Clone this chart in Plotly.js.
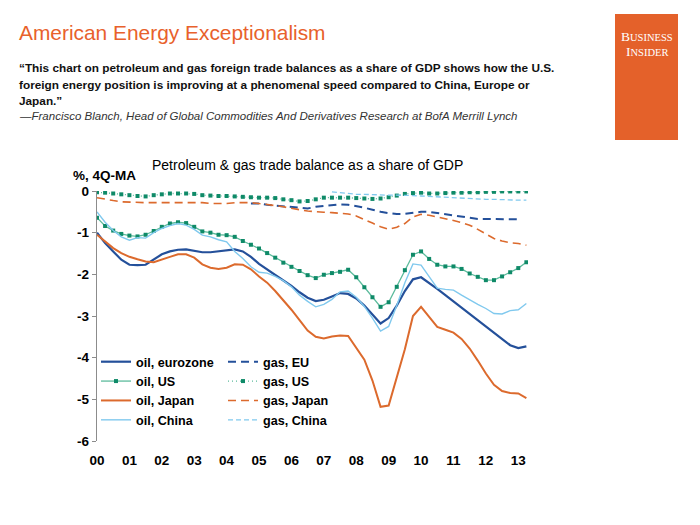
<!DOCTYPE html>
<html>
<head>
<meta charset="utf-8">
<script src="https://cdn.plot.ly/plotly-3.0.1.min.js"></script>
<style>
  html, body { margin: 0; padding: 0; background: #ffffff; }
  #chart { width: 700px; height: 525px; }
</style>
</head>
<body>
<div id="chart"></div>
<script>
// ---- data (quarterly, 4Q moving average, % of GDP) ----
const quarters = [
  2000.00, 2000.25, 2000.50, 2000.75, 2001.00, 2001.25, 2001.50, 2001.75,
  2002.00, 2002.25, 2002.50, 2002.75, 2003.00, 2003.25, 2003.50, 2003.75,
  2004.00, 2004.25, 2004.50, 2004.75, 2005.00, 2005.25, 2005.50, 2005.75,
  2006.00, 2006.25, 2006.50, 2006.75, 2007.00, 2007.25, 2007.50, 2007.75,
  2008.00, 2008.25, 2008.50, 2008.75, 2009.00, 2009.25, 2009.50, 2009.75,
  2010.00, 2010.25, 2010.50, 2010.75, 2011.00, 2011.25, 2011.50, 2011.75,
  2012.00, 2012.25, 2012.50, 2012.75, 2013.00, 2013.25
];

const oilEurozone = [
  -1.00, -1.25, -1.45, -1.65, -1.77, -1.78, -1.77, -1.65,
  -1.52, -1.45, -1.41, -1.40, -1.43, -1.47, -1.47, -1.45,
  -1.42, -1.40, -1.45, -1.58, -1.75, -1.88, -2.00, -2.14,
  -2.28, -2.43, -2.56, -2.64, -2.61, -2.53, -2.45, -2.47,
  -2.58, -2.75, -2.97, -3.18, -3.05, -2.75, -2.40, -2.12,
  -2.07, -2.20, -2.35, -2.50, -2.65, -2.80, -2.95, -3.10,
  -3.27, -3.42, -3.57, -3.70, -3.77, -3.73
];

const oilUS = [
  -0.64, -0.84, -0.95, -1.03, -1.07, -1.09, -1.05, -0.96,
  -0.86, -0.78, -0.75, -0.77, -0.86, -0.97, -1.00, -1.05,
  -1.06, -1.10, -1.20, -1.29, -1.38, -1.49, -1.60, -1.72,
  -1.82, -1.92, -2.02, -2.09, -2.01, -1.97, -1.94, -1.89,
  -2.07, -2.31, -2.55, -2.78, -2.67, -2.30, -1.90, -1.53,
  -1.45, -1.63, -1.77, -1.81, -1.81, -1.87, -1.98, -2.06,
  -2.14, -2.14, -2.05, -1.95, -1.85, -1.71
];

const oilJapan = [
  -1.05, -1.22, -1.37, -1.49, -1.58, -1.64, -1.69, -1.71,
  -1.64, -1.58, -1.52, -1.52, -1.60, -1.76, -1.84, -1.87,
  -1.84, -1.76, -1.77, -1.88, -2.05, -2.20, -2.40, -2.62,
  -2.85, -3.10, -3.35, -3.50, -3.54, -3.49, -3.47, -3.48,
  -3.75, -4.05, -4.55, -5.18, -5.15, -4.50, -3.80, -3.00,
  -2.78, -3.02, -3.26, -3.33, -3.40, -3.55, -3.78, -4.07,
  -4.38, -4.65, -4.80, -4.85, -4.86, -4.97
];

const oilChina = [
  -0.50, -0.75, -0.95, -1.10, -1.18, -1.12, -1.13, -1.00,
  -0.90, -0.83, -0.78, -0.82, -0.92, -1.06, -1.10, -1.17,
  -1.22, -1.45, -1.62, -1.82, -1.95, -1.97, -2.05, -2.15,
  -2.30, -2.50, -2.65, -2.78, -2.72, -2.60, -2.42, -2.40,
  -2.55, -2.77, -3.05, -3.36, -3.25, -2.75, -2.20, -1.75,
  -1.78, -2.05, -2.33, -2.36, -2.38, -2.50, -2.62, -2.72,
  -2.82, -2.94, -2.95, -2.87, -2.85, -2.70
];

const gasEU = [
  null, null, null, null, null, null, null, null,
  null, null, null, null, null, null, null, null,
  null, null, null, -0.30, -0.30, -0.33, -0.35, -0.37,
  -0.38, -0.40, -0.42, -0.38, -0.36, -0.33, -0.32, -0.33,
  -0.36, -0.40, -0.45, -0.50, -0.53, -0.55, -0.55, -0.52,
  -0.50, -0.50, -0.53, -0.56, -0.58, -0.62, -0.65, -0.67,
  -0.67, -0.67, -0.68, -0.68, -0.68, null
];

const gasUS = [
  -0.03, -0.04, -0.06, -0.08, -0.10, -0.12, -0.13, -0.10,
  -0.08, -0.06, -0.06, -0.06, -0.07, -0.10, -0.11, -0.12,
  -0.12, -0.13, -0.14, -0.15, -0.16, -0.16, -0.17, -0.20,
  -0.22, -0.25, -0.24, -0.20, -0.16, -0.16, -0.16, -0.16,
  -0.17, -0.18, -0.19, -0.18, -0.15, -0.11, -0.07, -0.05,
  -0.04, -0.06, -0.06, -0.05, -0.04, -0.04, -0.03, -0.03,
  -0.02, -0.02, -0.01, -0.01, -0.01, -0.01
];

const gasJapan = [
  -0.16, -0.20, -0.23, -0.26, -0.27, -0.28, -0.28, -0.28,
  -0.28, -0.27, -0.27, -0.27, -0.27, -0.28, -0.30, -0.30,
  -0.30, -0.28, -0.28, -0.28, -0.30, -0.32, -0.35, -0.38,
  -0.42, -0.45, -0.48, -0.50, -0.51, -0.52, -0.53, -0.55,
  -0.60, -0.68, -0.77, -0.86, -0.92, -0.87, -0.78, -0.62,
  -0.56, -0.58, -0.62, -0.67, -0.71, -0.76, -0.82, -0.92,
  -1.04, -1.14, -1.20, -1.24, -1.26, -1.30
];

const gasChina = [
  null, null, null, null, null, null, null, null,
  null, null, null, null, null, null, null, null,
  null, null, null, null, null, null, null, null,
  null, null, null, null, null, -0.02, -0.04, -0.06,
  -0.08, -0.08, -0.09, -0.10, -0.10, -0.10, -0.10, -0.11,
  -0.12, -0.13, -0.14, -0.16, -0.17, -0.18, -0.19, -0.19,
  -0.20, -0.20, -0.21, -0.21, -0.22, -0.22
];

const yearTicks  = [2000, 2001, 2002, 2003, 2004, 2005, 2006, 2007, 2008, 2009, 2010, 2011, 2012, 2013];
const yearLabels = ['00', '01', '02', '03', '04', '05', '06', '07', '08', '09', '10', '11', '12', '13'];
const yTicks      = [0, -1, -2, -3, -4, -5, -6];
const yTickLabels = ['0', '-1', '-2', '-3', '-4', '-5', '-6'];
const gridTicks   = [-1, -2, -3, -4, -5];

// ---- styles ----
const C_EURO = '#24509a';
const C_US_LINE = '#5cbb9c';
const C_US_MARK = '#0f8a68';
const C_JAPAN = '#dc6a2d';
const C_CHINA = '#80c9ee';

// ---- geometry helpers (pixel -> paper) ----
const L = 97, T = 191, W = 431, H = 250;
const px = x => (x - L) / W;
const py = y => (T + H - y) / H;

const traces = [
  { name: 'oil, eurozone', x: quarters, y: oilEurozone, mode: 'lines',
    line: { color: C_EURO, width: 2.2 }, legend: 'legend' },
  { name: 'oil, US', x: quarters, y: oilUS, mode: 'lines+markers',
    line: { color: C_US_LINE, width: 1.3 },
    marker: { color: C_US_MARK, size: 4, symbol: 'square' }, legend: 'legend' },
  { name: 'oil, Japan', x: quarters, y: oilJapan, mode: 'lines',
    line: { color: C_JAPAN, width: 2 }, legend: 'legend' },
  { name: 'oil, China', x: quarters, y: oilChina, mode: 'lines',
    line: { color: C_CHINA, width: 1.4 }, legend: 'legend' },
  { name: 'gas, EU', x: quarters, y: gasEU, mode: 'lines',
    line: { color: C_EURO, width: 2, dash: '8px,5px' }, legend: 'legend2' },
  { name: 'gas, US', x: quarters, y: gasUS, mode: 'lines+markers',
    line: { color: C_US_LINE, width: 1.3, dash: '1px,3px' },
    marker: { color: C_US_MARK, size: 4, symbol: 'square' }, legend: 'legend2' },
  { name: 'gas, Japan', x: quarters, y: gasJapan, mode: 'lines',
    line: { color: C_JAPAN, width: 1.6, dash: '8px,5px' }, legend: 'legend2' },
  { name: 'gas, China', x: quarters, y: gasChina, mode: 'lines',
    line: { color: C_CHINA, width: 1.3, dash: '5px,3px' }, legend: 'legend2' }
];

const tickFont = { family: 'Liberation Sans, Arial, sans-serif', size: 13.5, color: '#000', weight: 'bold' };
const legendFont = { family: 'Liberation Sans, Arial, sans-serif', size: 12.6, color: '#000', weight: 'bold' };

const layout = {
  width: 700, height: 525,
  margin: { l: L, r: 700 - L - W, t: T, b: 525 - T - H, pad: 0 },
  paper_bgcolor: '#ffffff', plot_bgcolor: 'rgba(0,0,0,0)',
  showlegend: true,
  xaxis: {
    range: [2000, 2013.3], tickvals: yearTicks, ticktext: yearLabels,
    showgrid: false, zeroline: false, showline: false, ticks: '',
    tickfont: tickFont, ticklabelstandoff: 9, fixedrange: true
  },
  xaxis2: {
    overlaying: 'x', matches: 'x', side: 'top', anchor: 'y',
    range: [2000, 2013.3], tickvals: yearTicks,
    showgrid: false, zeroline: false, showline: true, linecolor: '#8c8c8c', linewidth: 1.2,
    ticks: 'outside', ticklen: 4, tickcolor: '#8c8c8c', showticklabels: false
  },
  yaxis: {
    range: [-6, 0], tickvals: yTicks, ticktext: yTickLabels,
    showgrid: false, zeroline: false, showline: true, linecolor: '#8c8c8c', linewidth: 1.2,
    ticks: 'outside', ticklen: 4, tickcolor: '#8c8c8c',
    tickfont: tickFont, fixedrange: true
  },
  yaxis2: {
    overlaying: 'y', matches: 'y', range: [-6, 0], tickvals: gridTicks,
    showgrid: true, gridcolor: '#c8c8c8', griddash: 'dot', gridwidth: 1,
    showticklabels: false, ticks: '', zeroline: false, showline: false
  },
  legend: {
    x: px(96), y: py(347), xanchor: 'left', yanchor: 'top',
    bgcolor: 'rgba(0,0,0,0)', font: legendFont, itemwidth: 30,
    tracegroupgap: 0, traceorder: 'normal'
  },
  legend2: {
    x: px(223), y: py(347), xanchor: 'left', yanchor: 'top',
    bgcolor: 'rgba(0,0,0,0)', font: legendFont, itemwidth: 30,
    tracegroupgap: 0, traceorder: 'normal'
  },
  shapes: [
    // white box behind the legend (hides the gridlines there)
    { type: 'rect', xref: 'paper', yref: 'paper', layer: 'between',
      x0: px(99), x1: px(352), y0: py(434), y1: py(350),
      fillcolor: '#ffffff', line: { width: 0 } },
    // Business Insider logo block
    { type: 'rect', xref: 'paper', yref: 'paper',
      x0: px(615), x1: px(678), y0: py(140), y1: py(14),
      fillcolor: '#e4612a', line: { width: 0 } }
  ],
  annotations: [
    { text: 'American Energy Exceptionalism', xref: 'paper', yref: 'paper',
      x: px(17), y: py(32), xanchor: 'left', yanchor: 'middle', showarrow: false,
      font: { family: 'Liberation Sans, Arial, sans-serif', size: 20.9, color: '#e8612c' } },
    { text: '“This chart on petroleum and gas foreign trade balances as a share of GDP shows how the U.S.',
      xref: 'paper', yref: 'paper', x: px(17), y: py(68), xanchor: 'left', yanchor: 'middle', showarrow: false,
      font: { family: 'Liberation Sans, Arial, sans-serif', size: 11.8, color: '#111', weight: 'bold' } },
    { text: 'foreign energy position is improving at a phenomenal speed compared to China, Europe or',
      xref: 'paper', yref: 'paper', x: px(17), y: py(85), xanchor: 'left', yanchor: 'middle', showarrow: false,
      font: { family: 'Liberation Sans, Arial, sans-serif', size: 11.8, color: '#111', weight: 'bold' } },
    { text: 'Japan.”',
      xref: 'paper', yref: 'paper', x: px(17), y: py(101), xanchor: 'left', yanchor: 'middle', showarrow: false,
      font: { family: 'Liberation Sans, Arial, sans-serif', size: 11.8, color: '#111', weight: 'bold' } },
    { text: '<i>—Francisco Blanch, Head of Global Commodities And Derivatives Research at BofA Merrill Lynch</i>',
      xref: 'paper', yref: 'paper', x: px(17), y: py(116), xanchor: 'left', yanchor: 'middle', showarrow: false,
      font: { family: 'Liberation Sans, Arial, sans-serif', size: 11.5, color: '#333' } },
    { text: "B<span style='font-size:10.5px'>USINESS</span>",
      xref: 'paper', yref: 'paper', x: px(647), y: py(37), xanchor: 'center', yanchor: 'middle', showarrow: false,
      font: { family: 'Liberation Serif, serif', size: 13.5, color: '#ffffff' } },
    { text: "I<span style='font-size:10.5px'>NSIDER</span>",
      xref: 'paper', yref: 'paper', x: px(647), y: py(51), xanchor: 'center', yanchor: 'middle', showarrow: false,
      font: { family: 'Liberation Serif, serif', size: 13.5, color: '#ffffff' } },
    { text: 'Petroleum & gas trade balance as a share of GDP',
      xref: 'paper', yref: 'paper', x: px(307), y: py(165), xanchor: 'center', yanchor: 'middle', showarrow: false,
      font: { family: 'Liberation Sans, Arial, sans-serif', size: 14, color: '#000' } },
    { text: '%, 4Q-MA',
      xref: 'paper', yref: 'paper', x: px(71), y: py(175), xanchor: 'left', yanchor: 'middle', showarrow: false,
      font: { family: 'Liberation Sans, Arial, sans-serif', size: 13.5, color: '#000', weight: 'bold' } }
  ]
};

Plotly.newPlot('chart', traces, layout, { staticPlot: true, displayModeBar: false });
</script>
</body>
</html>
